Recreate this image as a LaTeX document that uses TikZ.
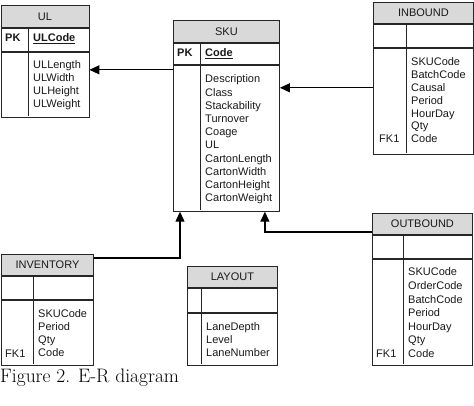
\documentclass[tikz,border=0pt]{standalone}
\usepackage{fontspec}
\setsansfont{Liberation Sans}
\usetikzlibrary{arrows.meta}
\definecolor{hdrgray}{gray}{0.85}
\begin{document}
\begin{tikzpicture}[x=1pt,y=-1pt,
  tbl/.style={draw=black!85, line width=0.9pt, rectangle, inner sep=0pt, anchor=north west},
  hdr/.style={tbl, fill=hdrgray, text=black!90, font=\sffamily\fontsize{11}{13}\selectfont},
  field/.style={anchor=base west, inner sep=0pt, text=black!90, font=\sffamily\fontsize{11}{13}\selectfont},
  key/.style={field, font=\sffamily\bfseries\fontsize{11}{13}\selectfont},
  divider/.style={draw=black!85, line width=0.9pt},
  rel/.style={line width=1.2pt, -{Triangle[length=10pt,width=9pt]}}]
\useasboundingbox (0,0) rectangle (474,406);
\node[hdr, minimum width=88, minimum height=22] (ul) at (0.5,5) {UL};
\node[tbl, minimum width=88, minimum height=23] (ulkey) at (ul.south west) {};
\node[tbl, minimum width=88, minimum height=65] (ulbody) at (ulkey.south west) {};
\draw[divider] (ulkey.north west) ++(28,0) -- ++(0,88);
\node[key] at (5,42) {PK};
\node[key] at (33,42) {\underline{ULCode}};
\foreach \f [count=\i from 0] in {ULLength,ULWidth,ULHeight,ULWeight}
  \node[field] at (33,69+12.8*\i) {\f};
\node[hdr, minimum width=106, minimum height=22] (sku) at (173,20) {SKU};
\node[tbl, minimum width=106, minimum height=21] (skukey) at (sku.south west) {};
\node[tbl, minimum width=106, minimum height=146] (skubody) at (skukey.south west) {};
\draw[divider] (skukey.north west) ++(27,0) -- ++(0,167);
\node[key] at (177,57) {PK};
\node[key] at (205,57) {\underline{Code}};
\foreach \f [count=\i from 0] in {Description,Class,Stackability,Turnover,Coage,UL,CartonLength,CartonWidth,CartonHeight,CartonWeight}
  \node[field] at (205,83+13.2*\i) {\f};
\node[hdr, minimum width=100, minimum height=21] (in) at (373,2) {INBOUND};
\node[tbl, minimum width=100, minimum height=23] (inkey) at (in.south west) {};
\node[tbl, minimum width=100, minimum height=106] (inbody) at (inkey.south west) {};
\draw[divider] (inkey.north west) ++(33,0) -- ++(0,129);
\foreach \f [count=\i from 0] in {SKUCode,BatchCode,Causal,Period,HourDay,Qty,Code}
  \node[field] at (411,66+12.8*\i) {\f};
\node[field] at (379,143) {FK1};
\node[hdr, minimum width=92, minimum height=21] (inv) at (1,254) {INVENTORY};
\node[tbl, minimum width=92, minimum height=23] (invkey) at (inv.south west) {};
\node[tbl, minimum width=92, minimum height=65] (invbody) at (invkey.south west) {};
\draw[divider] (invkey.north west) ++(32,0) -- ++(0,88);
\foreach \f [count=\i from 0] in {SKUCode,Period,Qty,Code}
  \node[field] at (38,317+13.3*\i) {\f};
\node[field] at (5,357) {FK1};
\node[hdr, minimum width=90, minimum height=21] (lay) at (187,266) {LAYOUT};
\node[tbl, minimum width=90, minimum height=24] (laykey) at (lay.south west) {};
\node[tbl, minimum width=90, minimum height=52] (laybody) at (laykey.south west) {};
\draw[divider] (laykey.north west) ++(14,0) -- ++(0,76);
\foreach \f [count=\i from 0] in {LaneDepth,Level,LaneNumber}
  \node[field] at (206,330+13*\i) {\f};
\node[hdr, minimum width=100, minimum height=21] (out) at (372,213) {OUTBOUND};
\node[tbl, minimum width=100, minimum height=23] (outkey) at (out.south west) {};
\node[tbl, minimum width=100, minimum height=106] (outbody) at (outkey.south west) {};
\draw[divider] (outkey.north west) ++(31,0) -- ++(0,129);
\foreach \f [count=\i from 0] in {SKUCode,OrderCode,BatchCode,Period,HourDay,Qty,Code}
  \node[field] at (408,276+13.5*\i) {\f};
\node[field] at (376,357) {FK1};
\draw[rel] ([yshift=-5pt]skubody.north west) -- ([yshift=-5pt]skubody.north west -| ulbody.east);
\draw[rel] ([yshift=-40pt]inbody.north west) -- ([yshift=-40pt]inbody.north west -| skubody.east);
\draw[rel] ([yshift=-4pt]inv.north east) -| ([xshift=7pt]skubody.south west);
\draw[rel] ([yshift=-19pt]out.north west) -| ([xshift=-15pt]skubody.south east);
\node[anchor=base west, inner sep=0pt, font=\rmfamily\fontsize{19.5}{22}\selectfont] (caption) at (0,382) {Figure 2. E-R diagram};
\end{tikzpicture}
\end{document}
